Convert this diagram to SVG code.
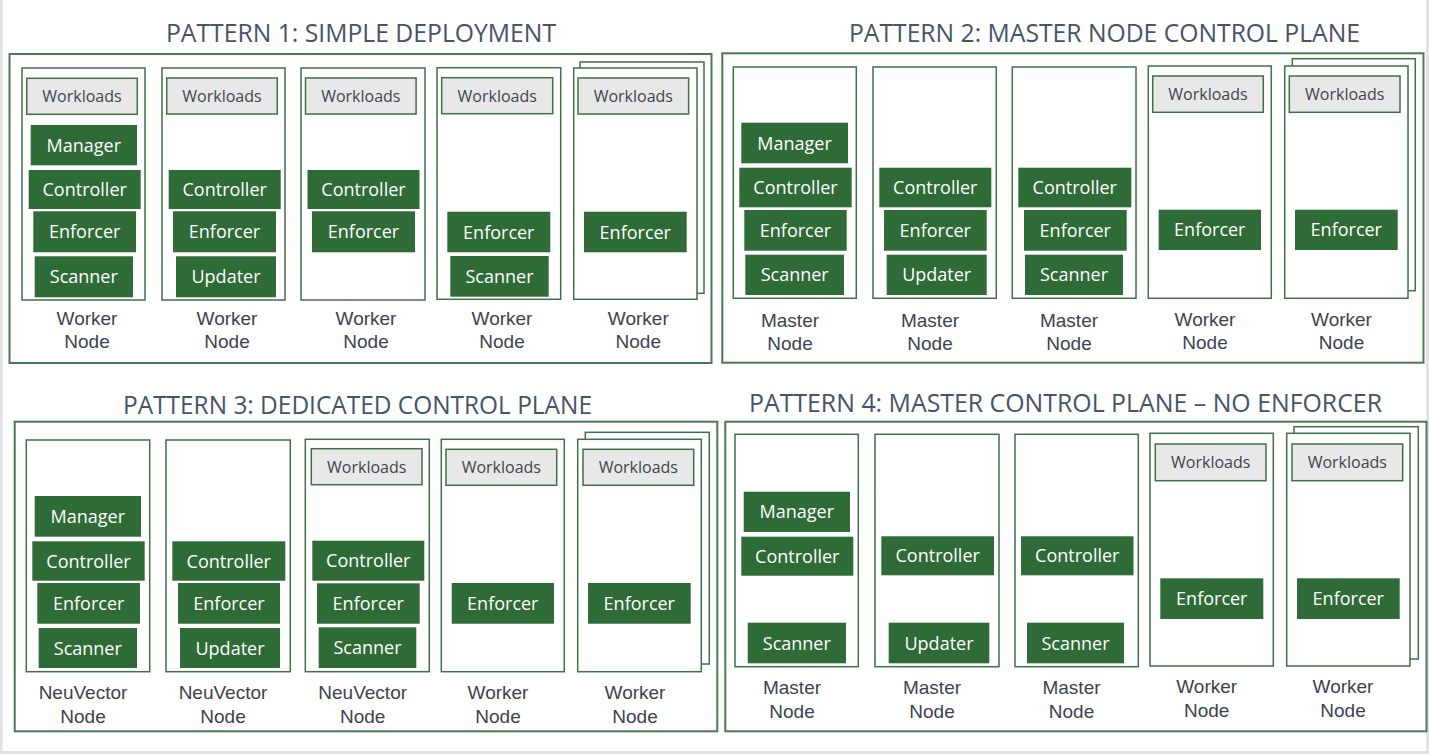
<svg xmlns="http://www.w3.org/2000/svg" width="1429" height="754" viewBox="0 0 1429 754">
<style>
.frame{fill:#ffffff;stroke:#4a7a52;stroke-width:2}
.node{fill:#ffffff;stroke:#3f7047;stroke-width:1.5}
.wl{fill:#e8e8e8;stroke:#3f7047;stroke-width:1.5}
.comp{fill:#2e6b36}
.ct{fill:#ffffff;font-family:"Open Sans","Liberation Sans",Arial,sans-serif;font-size:18px;text-anchor:middle}
.wt{fill:#3f4550;font-family:"Open Sans","Liberation Sans",Arial,sans-serif;font-size:16px;text-anchor:middle}
.lbl{fill:#3b4350;font-family:"Liberation Sans",Arial,sans-serif;font-size:19px;text-anchor:middle}
.title{fill:#44546a;font-family:"Open Sans","Liberation Sans",Arial,sans-serif;font-size:25px}
.edge{fill:#e2e2e2}
</style>
<rect x="0" y="0" width="1429" height="754" fill="#ffffff"/>
<rect class="edge" x="0" y="0" width="2.5" height="754"/>
<rect class="edge" x="0" y="751" width="1429" height="3"/>
<rect class="edge" x="1426" y="0" width="3" height="754"/>

<g id="pattern1">
<text class="title" x="166" y="42" textLength="390" lengthAdjust="spacingAndGlyphs">PATTERN 1: SIMPLE DEPLOYMENT</text>
<rect class="frame" x="9.5" y="54" width="702" height="309"/>
<g id="p1-node1">
<rect class="node" x="22" y="68" width="123" height="232"/>
<rect class="wl" x="26.7" y="78.3" width="110.6" height="36"/><text class="wt" x="82" y="102">Workloads</text>
<rect class="comp" x="30.7" y="125" width="106.3" height="40.3"/><text class="ct" x="83.8" y="151.7">Manager</text>
<rect class="comp" x="28.7" y="170" width="112" height="39"/><text class="ct" x="84.7" y="196">Controller</text>
<rect class="comp" x="33.3" y="211.3" width="102.7" height="41"/><text class="ct" x="84.7" y="238.3">Enforcer</text>
<rect class="comp" x="34.7" y="256.3" width="98.3" height="41"/><text class="ct" x="83.8" y="283.3">Scanner</text>
<text class="lbl" x="87" y="324.5">Worker</text><text class="lbl" x="87" y="348">Node</text>
</g>
<g id="p1-node2">
<rect class="node" x="162" y="68" width="123" height="232"/>
<rect class="wl" x="166.7" y="78" width="110.6" height="36"/><text class="wt" x="222" y="102">Workloads</text>
<rect class="comp" x="168.7" y="170" width="112" height="39"/><text class="ct" x="224.7" y="196">Controller</text>
<rect class="comp" x="173" y="211.3" width="103" height="41"/><text class="ct" x="224.5" y="238.3">Enforcer</text>
<rect class="comp" x="176" y="256.3" width="100" height="41"/><text class="ct" x="226" y="283.3">Updater</text>
<text class="lbl" x="227" y="324.5">Worker</text><text class="lbl" x="227" y="348">Node</text>
</g>
<g id="p1-node3">
<rect class="node" x="301" y="68" width="124" height="232"/>
<rect class="wl" x="305.5" y="78" width="110.6" height="36"/><text class="wt" x="360.8" y="102">Workloads</text>
<rect class="comp" x="307.5" y="170" width="112" height="39"/><text class="ct" x="363.5" y="196">Controller</text>
<rect class="comp" x="312" y="211.3" width="103" height="41"/><text class="ct" x="363.5" y="238.3">Enforcer</text>
<text class="lbl" x="366" y="324.5">Worker</text><text class="lbl" x="366" y="348">Node</text>
</g>
<g id="p1-node4">
<rect class="node" x="437" y="67.7" width="123.7" height="231.6"/>
<rect class="wl" x="441.7" y="77.7" width="111" height="36"/><text class="wt" x="497.2" y="101.5">Workloads</text>
<rect class="comp" x="447.3" y="211.7" width="103" height="40.6"/><text class="ct" x="498.8" y="238.5">Enforcer</text>
<rect class="comp" x="450.3" y="256" width="98.4" height="40.7"/><text class="ct" x="499.5" y="282.8">Scanner</text>
<text class="lbl" x="502" y="324.5">Worker</text><text class="lbl" x="502" y="348">Node</text>
</g>
<g id="p1-node5">
<rect class="node" x="580" y="62" width="124" height="231.3"/>
<rect class="node" x="573.7" y="68" width="123.3" height="231.3"/>
<rect class="wl" x="578" y="78" width="110.6" height="36"/><text class="wt" x="633.3" y="102">Workloads</text>
<rect class="comp" x="584" y="211.7" width="102.7" height="40.6"/><text class="ct" x="635.3" y="238.5">Enforcer</text>
<text class="lbl" x="638.3" y="324.5">Worker</text><text class="lbl" x="638.3" y="348">Node</text>
</g>
</g>

<g id="pattern2">
<text class="title" x="849" y="42" textLength="511" lengthAdjust="spacingAndGlyphs">PATTERN 2: MASTER NODE CONTROL PLANE</text>
<rect class="frame" x="722.3" y="53.3" width="701.2" height="309.4"/>
<g id="p2-node1">
<rect class="node" x="733.3" y="67" width="123" height="231.3"/>
<rect class="comp" x="741.3" y="122.7" width="106.7" height="40.6"/><text class="ct" x="794.6" y="149.5">Manager</text>
<rect class="comp" x="739.3" y="167.7" width="112.4" height="39.6"/><text class="ct" x="795.5" y="194">Controller</text>
<rect class="comp" x="744.3" y="210" width="102.4" height="40.7"/><text class="ct" x="795.5" y="236.8">Enforcer</text>
<rect class="comp" x="745.3" y="254.7" width="98.7" height="40.3"/><text class="ct" x="794.7" y="281.3">Scanner</text>
<text class="lbl" x="790" y="326.5">Master</text><text class="lbl" x="790" y="350">Node</text>
</g>
<g id="p2-node2">
<rect class="node" x="873" y="67" width="123.3" height="231.3"/>
<rect class="comp" x="879.3" y="167.7" width="112" height="39.6"/><text class="ct" x="935.3" y="194">Controller</text>
<rect class="comp" x="884" y="210" width="102.7" height="40.7"/><text class="ct" x="935.3" y="236.8">Enforcer</text>
<rect class="comp" x="886.7" y="254.7" width="100" height="40.3"/><text class="ct" x="936.7" y="281.3">Updater</text>
<text class="lbl" x="930" y="326.5">Master</text><text class="lbl" x="930" y="350">Node</text>
</g>
<g id="p2-node3">
<rect class="node" x="1012.3" y="67" width="123.7" height="231.3"/>
<rect class="comp" x="1018.3" y="167.7" width="113" height="39.6"/><text class="ct" x="1074.8" y="194">Controller</text>
<rect class="comp" x="1024" y="210" width="102.7" height="40.7"/><text class="ct" x="1075.3" y="236.8">Enforcer</text>
<rect class="comp" x="1025" y="254.7" width="98" height="40.3"/><text class="ct" x="1074" y="281.3">Scanner</text>
<text class="lbl" x="1069" y="326.5">Master</text><text class="lbl" x="1069" y="350">Node</text>
</g>
<g id="p2-node4">
<rect class="node" x="1148.3" y="66" width="123" height="232.3"/>
<rect class="wl" x="1152.7" y="76" width="110.6" height="36.3"/><text class="wt" x="1208" y="100">Workloads</text>
<rect class="comp" x="1158.7" y="209.7" width="102.3" height="40.3"/><text class="ct" x="1209.8" y="236.3">Enforcer</text>
<text class="lbl" x="1205" y="325.5">Worker</text><text class="lbl" x="1205" y="349">Node</text>
</g>
<g id="p2-node5">
<rect class="node" x="1292.3" y="58.7" width="123" height="232"/>
<rect class="node" x="1284.7" y="66" width="123.3" height="232.3"/>
<rect class="wl" x="1289.3" y="76" width="110.7" height="36.3"/><text class="wt" x="1344.7" y="100">Workloads</text>
<rect class="comp" x="1295" y="209.7" width="102.7" height="40.3"/><text class="ct" x="1346.3" y="236.3">Enforcer</text>
<text class="lbl" x="1341.5" y="325.5">Worker</text><text class="lbl" x="1341.5" y="349">Node</text>
</g>
</g>

<g id="pattern3">
<text class="title" x="123" y="413.5" textLength="469" lengthAdjust="spacingAndGlyphs">PATTERN 3: DEDICATED CONTROL PLANE</text>
<rect class="frame" x="14.7" y="421.7" width="702.6" height="309.6"/>
<g id="p3-node1">
<rect class="node" x="26.3" y="440" width="123.4" height="231.7"/>
<rect class="comp" x="34.7" y="496" width="106.3" height="40.7"/><text class="ct" x="87.8" y="522.8">Manager</text>
<rect class="comp" x="32.3" y="541.3" width="112.4" height="39.4"/><text class="ct" x="88.5" y="567.5">Controller</text>
<rect class="comp" x="37.3" y="583" width="102.7" height="40.7"/><text class="ct" x="88.7" y="609.8">Enforcer</text>
<rect class="comp" x="38.7" y="628" width="98.3" height="40"/><text class="ct" x="87.8" y="654.5">Scanner</text>
<text class="lbl" x="83" y="699.3">NeuVector</text><text class="lbl" x="83" y="723.3">Node</text>
</g>
<g id="p3-node2">
<rect class="node" x="166" y="440" width="124.3" height="231.7"/>
<rect class="comp" x="172.3" y="541.3" width="113" height="39.4"/><text class="ct" x="228.8" y="567.5">Controller</text>
<rect class="comp" x="178" y="583" width="102" height="40.7"/><text class="ct" x="229" y="609.8">Enforcer</text>
<rect class="comp" x="180" y="628" width="100" height="40"/><text class="ct" x="230" y="654.5">Updater</text>
<text class="lbl" x="223" y="699.3">NeuVector</text><text class="lbl" x="223" y="723.3">Node</text>
</g>
<g id="p3-node3">
<rect class="node" x="305.3" y="439.3" width="124" height="232.4"/>
<rect class="wl" x="311.3" y="448.7" width="110.7" height="36"/><text class="wt" x="366.7" y="472.5">Workloads</text>
<rect class="comp" x="312.3" y="540.7" width="112" height="40"/><text class="ct" x="368.3" y="567.2">Controller</text>
<rect class="comp" x="317" y="583.3" width="102.7" height="40.4"/><text class="ct" x="368.3" y="610">Enforcer</text>
<rect class="comp" x="318.7" y="627.3" width="97.6" height="40.7"/><text class="ct" x="367.5" y="654.2">Scanner</text>
<text class="lbl" x="362.7" y="699.3">NeuVector</text><text class="lbl" x="362.7" y="723.3">Node</text>
</g>
<g id="p3-node4">
<rect class="node" x="441.3" y="439.3" width="123" height="232.4"/>
<rect class="wl" x="446" y="449.3" width="110.7" height="36"/><text class="wt" x="501.3" y="473">Workloads</text>
<rect class="comp" x="451.7" y="583" width="102.3" height="40.7"/><text class="ct" x="502.8" y="609.8">Enforcer</text>
<text class="lbl" x="498" y="699.3">Worker</text><text class="lbl" x="498" y="723.3">Node</text>
</g>
<g id="p3-node5">
<rect class="node" x="585.3" y="432.3" width="124" height="231.7"/>
<rect class="node" x="577.7" y="439.3" width="123.6" height="232.4"/>
<rect class="wl" x="583" y="449.3" width="110.7" height="36"/><text class="wt" x="638.3" y="473">Workloads</text>
<rect class="comp" x="588" y="583" width="102.7" height="40.7"/><text class="ct" x="639.3" y="609.8">Enforcer</text>
<text class="lbl" x="635" y="699.3">Worker</text><text class="lbl" x="635" y="723.3">Node</text>
</g>
</g>

<g id="pattern4">
<text class="title" x="749" y="411.5" textLength="633" lengthAdjust="spacingAndGlyphs">PATTERN 4: MASTER CONTROL PLANE – NO ENFORCER</text>
<rect class="frame" x="725.3" y="421.7" width="701.2" height="309.6"/>
<g id="p4-node1">
<rect class="node" x="735" y="434.3" width="123.3" height="232.4"/>
<rect class="comp" x="743.7" y="491.7" width="106.3" height="40.3"/><text class="ct" x="796.8" y="518.3">Manager</text>
<rect class="comp" x="741.3" y="536.7" width="112" height="39"/><text class="ct" x="797.3" y="562.7">Controller</text>
<rect class="comp" x="747.7" y="622.7" width="98.3" height="40.6"/><text class="ct" x="796.8" y="649.5">Scanner</text>
<text class="lbl" x="792" y="694">Master</text><text class="lbl" x="792" y="718">Node</text>
</g>
<g id="p4-node2">
<rect class="node" x="875" y="434.3" width="124" height="232.4"/>
<rect class="comp" x="881.3" y="536.3" width="112.7" height="39"/><text class="ct" x="937.7" y="562.3">Controller</text>
<rect class="comp" x="888.7" y="622.7" width="100.6" height="40.6"/><text class="ct" x="939" y="649.5">Updater</text>
<text class="lbl" x="932" y="694">Master</text><text class="lbl" x="932" y="718">Node</text>
</g>
<g id="p4-node3">
<rect class="node" x="1015" y="434.3" width="123.3" height="232.4"/>
<rect class="comp" x="1021" y="536.3" width="112.5" height="39"/><text class="ct" x="1077.3" y="562.3">Controller</text>
<rect class="comp" x="1027" y="622.7" width="97" height="40.6"/><text class="ct" x="1075.5" y="649.5">Scanner</text>
<text class="lbl" x="1071.5" y="694">Master</text><text class="lbl" x="1071.5" y="718">Node</text>
</g>
<g id="p4-node4">
<rect class="node" x="1150" y="433.3" width="123.3" height="232.7"/>
<rect class="wl" x="1155.3" y="444" width="110.7" height="36.7"/><text class="wt" x="1210.7" y="468">Workloads</text>
<rect class="comp" x="1160.3" y="578.3" width="103" height="40.7"/><text class="ct" x="1211.8" y="605.2">Enforcer</text>
<text class="lbl" x="1206.7" y="693.3">Worker</text><text class="lbl" x="1206.7" y="717.3">Node</text>
</g>
<g id="p4-node5">
<rect class="node" x="1294" y="426.7" width="124.3" height="232.3"/>
<rect class="node" x="1286.7" y="433.3" width="123.3" height="232.7"/>
<rect class="wl" x="1292" y="444" width="110.7" height="36.7"/><text class="wt" x="1347.3" y="468">Workloads</text>
<rect class="comp" x="1297" y="578.3" width="102.7" height="40.7"/><text class="ct" x="1348.3" y="605.2">Enforcer</text>
<text class="lbl" x="1343" y="693.3">Worker</text><text class="lbl" x="1343" y="717.3">Node</text>
</g>
</g>

<g id="connectors"></g>
</svg>
